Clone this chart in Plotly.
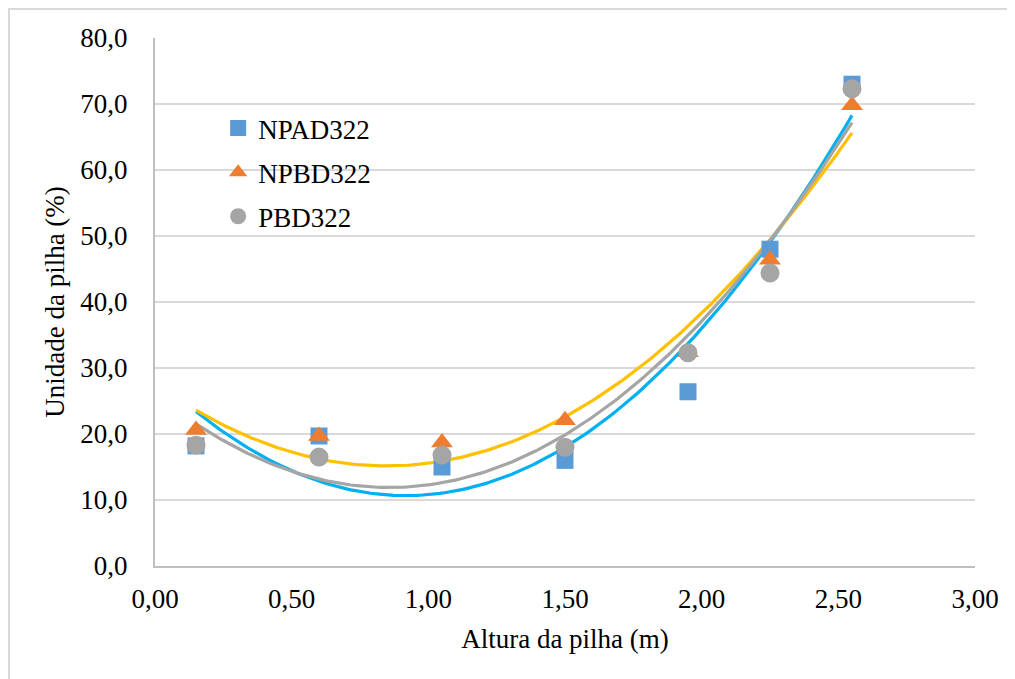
import numpy as np
import plotly.graph_objects as go

altura = [0.15, 0.60, 1.05, 1.50, 1.95, 2.25, 2.55]
npad322 = [18.2, 19.7, 15.0, 16.0, 26.4, 48.0, 73.0]
npbd322 = [20.6, 19.7, 18.7, 22.1, 32.4, 46.4, 69.8]
pbd322 = [18.3, 16.5, 16.8, 18.0, 32.3, 44.4, 72.3]

series = [
    ("NPAD322", npad322, "square", "#5B9BD5", 17, "#00B0F0"),
    ("NPBD322", npbd322, "triangle-up", "#ED7D31", 19, "#FFC000"),
    ("PBD322", pbd322, "circle", "#A5A5A5", 19, "#A5A5A5"),
]

FONT = "'Times New Roman', 'Liberation Serif', Tinos, 'DejaVu Serif', 'Noto Serif', serif"
L, T, W, H = 147, 30, 820, 528
fig = go.Figure()

xs = np.linspace(min(altura), max(altura), 200)
# polynomial (order 2) trendlines, drawn first so markers sit on top
for name, ys, sym, mcol, msize, tcol in series:
    c = np.polyfit(altura, ys, 2)
    fig.add_trace(go.Scatter(x=xs, y=np.polyval(c, xs), mode="lines",
                             line=dict(color=tcol, width=3.2),
                             showlegend=False, hoverinfo="skip"))

for i, (name, ys, sym, mcol, msize, tcol) in enumerate(series):
    fig.add_trace(go.Scatter(x=altura, y=ys, mode="markers", name=name,
                             legendgroup=f"g{i}",
                             marker=dict(symbol=sym, color=mcol, size=msize,
                                         line=dict(width=0))))

fig.update_layout(
    width=1015, height=679,
    margin=dict(l=L, r=1015 - L - W, t=T, b=679 - T - H),
    paper_bgcolor="white", plot_bgcolor="white",
    separators=", ",
    font=dict(family=FONT, size=27, color="#000000"),
    showlegend=True,
    legend=dict(x=0.077, y=0.875, xanchor="left", yanchor="top",
                bgcolor="rgba(0,0,0,0)", font=dict(size=27, family=FONT),
                tracegroupgap=6, itemwidth=30, traceorder="grouped"),
    xaxis=dict(range=[0, 3], dtick=0.5, tick0=0, tickformat=".2f",
               showgrid=False, zeroline=False,
               showline=True, linecolor="#BFBFBF", linewidth=2,
               ticks="", ticklabelstandoff=8,
               tickfont=dict(size=27, family=FONT),
               title=dict(text="Altura da pilha (m)", standoff=16,
                          font=dict(size=27, family=FONT))),
    yaxis=dict(range=[0, 80], dtick=10, tick0=0, tickformat=".1f",
               showgrid=True, gridcolor="#D9D9D9", gridwidth=2,
               zeroline=False,
               showline=True, linecolor="#BFBFBF", linewidth=2,
               ticks="", ticklabelstandoff=20,
               tickfont=dict(size=27, family=FONT),
               title=dict(text="Unidade da pilha (%)", standoff=8,
                          font=dict(size=27, family=FONT))),
    shapes=[dict(type="rect", xref="paper", yref="paper",
                 x0=(1 - L) / W, x1=(1030 - L) / W,
                 y0=(T + H - 700) / H, y1=(T + H - 1) / H,
                 line=dict(color="#D9D9D9", width=2), layer="below")],
)

fig.write_html("out.html")
